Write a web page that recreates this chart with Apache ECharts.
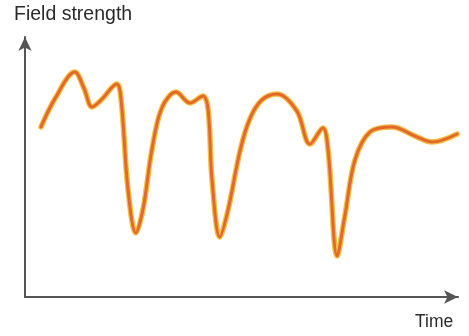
<!DOCTYPE html>
<html>
<head>
<meta charset="utf-8">
<script src="https://cdn.jsdelivr.net/npm/echarts@6/dist/echarts.min.js"></script>
<style>
html,body{margin:0;padding:0;background:#fff;}
#chart{width:469px;height:336px;}
</style>
</head>
<body>
<div id="chart"></div>
<script>
// Time (0-100) and field strength (0-100)
var timeValues = [3.7,6.9,11.5,13.6,15.5,17.6,21.2,22.2,23.8,25.6,27.3,29.3,31.6,34.9,38.1,41.1,42.3,43.2,45.0,46.9,49.7,52.0,54.7,58.2,62.8,65.8,68.8,70.0,72.1,73.9,76.2,79.7,84.8,90.1,94.0,99.8];
var strengthValues = [65.4,76.2,86.5,80.4,73.1,75.8,81.9,75.8,41.2,24.6,34.2,56.5,72.7,78.8,74.6,77.3,71.9,45.0,23.1,33.5,56.5,68.8,75.8,78.1,71.5,58.8,65.0,56.5,15.8,31.5,52.7,63.5,65.4,61.9,59.6,62.7];
var yAxisTitle = 'Field strength';
var xAxisTitle = 'Time';

var points = timeValues.map(function(t, i){ return [t, strengthValues[i]]; });

var chart = echarts.init(document.getElementById('chart'), null, {renderer:'canvas'});
var axisLine = {
  show: true,
  symbol: ['none','arrow'],
  symbolSize: [10, 14],
  lineStyle: {color:'#555', width: 2}
};
chart.setOption({
  backgroundColor: '#fff',
  animation: false,
  grid: {left: 25, right: 11, top: 37, bottom: 39},
  xAxis: {
    type: 'value', min: 0, max: 100,
    axisLine: axisLine,
    axisTick: {show:false}, axisLabel: {show:false}, splitLine: {show:false}
  },
  yAxis: {
    type: 'value', min: 0, max: 100,
    axisLine: axisLine,
    axisTick: {show:false}, axisLabel: {show:false}, splitLine: {show:false}
  },
  graphic: [
    {type:'text', left: 14, top: 5, style:{text: yAxisTitle, font:'19.5px "Liberation Sans", Arial, sans-serif', fill:'#2a2a2a'}},
    {type:'text', left: 415, top: 313, style:{text: xAxisTitle, font:'17.5px "Liberation Sans", Arial, sans-serif', fill:'#2a2a2a'}}
  ],
  series: [
    {type:'line', data: points, smooth: 0.35, symbol:'none',
     lineStyle:{color:'#f3bf45', width:5.5, cap:'round', join:'round'}, z: 2},
    {type:'line', data: points, smooth: 0.35, symbol:'none',
     lineStyle:{color:'#e4682a', width:3, cap:'round', join:'round'}, z: 3}
  ]
});
</script>
</body>
</html>
